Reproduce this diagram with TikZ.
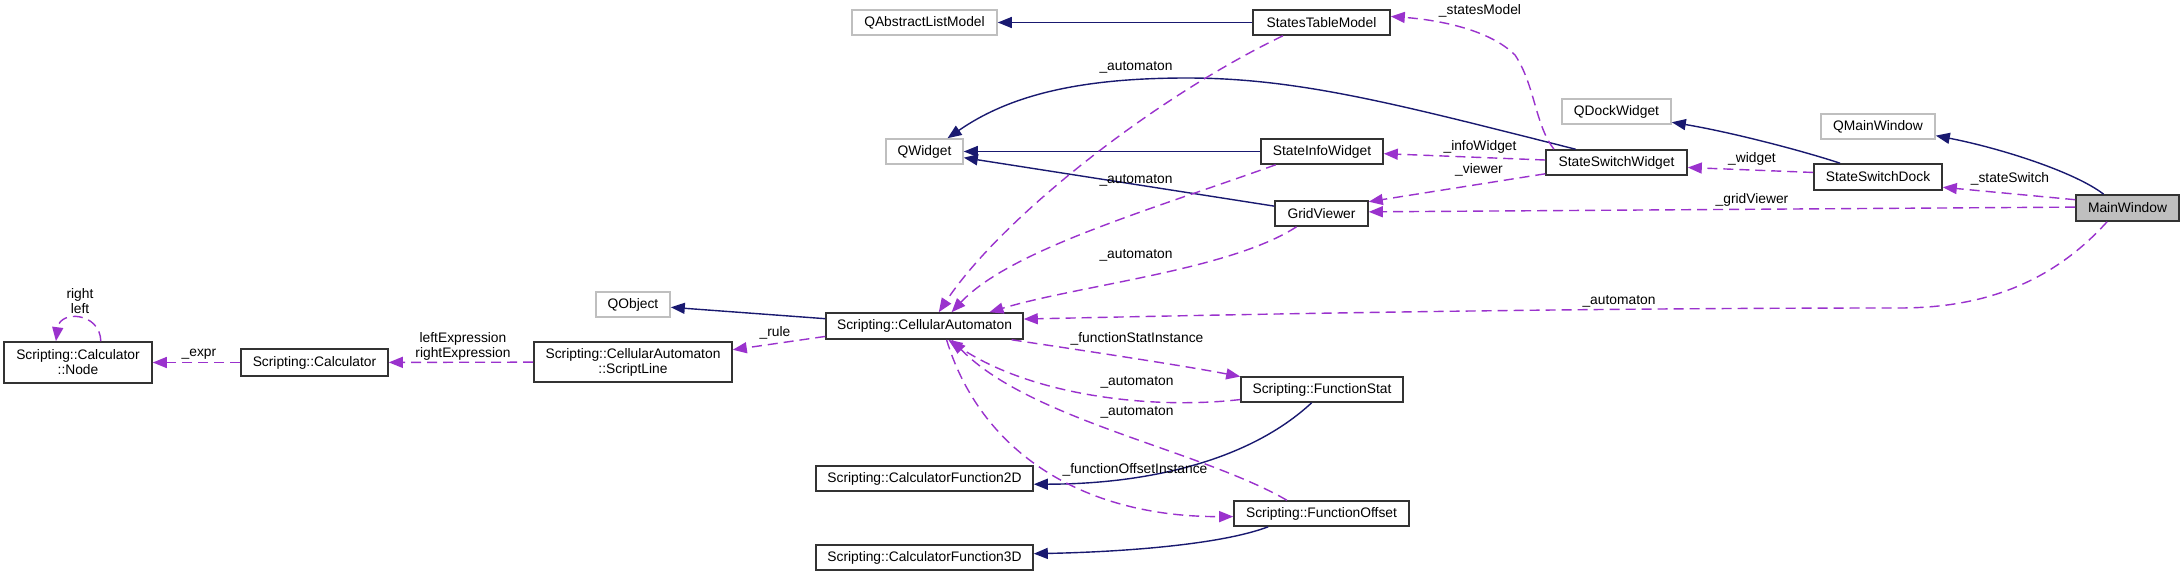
\documentclass[tikz,border=0pt]{standalone}
\usepackage{fontspec}
\setmainfont{Liberation Sans}
\usetikzlibrary{arrows.meta}
\definecolor{navy}{HTML}{191970}
\definecolor{orchid}{HTML}{9A32CD}
\definecolor{greybox}{HTML}{BFBFBF}

\begin{document}
\begin{tikzpicture}[
			x=1pt,y=-1pt,
			cls/.style={draw=black!80,line width=1.6pt,fill=white,inner sep=2pt,minimum height=25pt,align=center,font=\fontsize{13.8}{15}\selectfont},
			ext/.style={cls,draw=greybox},
			dbl/.style={cls,minimum height=41pt},
			inh/.style={-{Triangle[length=14pt,width=11pt]},line width=1.4pt,navy},
			usa/.style={-{Triangle[length=14pt,width=11pt]},line width=1.4pt,orchid,dash pattern=on 10pt off 6pt},
			lbl/.style={inner sep=0pt,align=center,font=\fontsize{13.8}{15}\selectfont}
			]
			\useasboundingbox (0,0) rectangle (2184,576);
			\fill[white] (0,0) rectangle (2184,576);
			\node[ext,minimum width=145pt] (qalm) at (924.5,22.5) {QAbstractListModel};
			\node[cls,minimum width=137pt] (stm) at (1321.5,22.5) {StatesTableModel};
			\node[ext,minimum width=77pt] (qw) at (924.5,151.5) {QWidget};
			\node[cls,minimum width=122pt] (siw) at (1322,151.5) {StateInfoWidget};
			\node[cls,minimum width=93pt] (gv) at (1321.5,213.5) {GridViewer};
			\node[ext,minimum width=109pt] (qdw) at (1616.5,111.5) {QDockWidget};
			\node[cls,minimum width=141pt] (ssw) at (1616.5,162.5) {StateSwitchWidget};
			\node[ext,minimum width=114pt] (qmw) at (1878,126.5) {QMainWindow};
			\node[cls,minimum width=128pt,minimum height=26pt] (ssd) at (1878,177) {StateSwitchDock};
			\node[cls,fill=greybox,minimum width=103pt,minimum height=26pt] (mw) at (2127.5,208) {MainWindow};
			\node[ext,minimum width=74pt] (qo) at (633,304.5) {QObject};
			\node[cls,minimum width=197pt,minimum height=26pt] (ca) at (924.5,326) {Scripting::CellularAutomaton};
			\node[dbl,minimum width=148pt] (cnode) at (78,362.5) {Scripting::Calculator\\::Node};
			\node[cls,minimum width=147pt,minimum height=27pt] (calc) at (314.5,362.5) {Scripting::Calculator};
			\node[dbl,minimum width=198pt,minimum height=40pt] (sline) at (633,362) {Scripting::CellularAutomaton\\::ScriptLine};
			\node[cls,minimum width=162pt] (fstat) at (1322,389.5) {Scripting::FunctionStat};
			\node[cls,minimum width=217pt] (cf2) at (924.5,478.5) {Scripting::CalculatorFunction2D};
			\node[cls,minimum width=175pt] (foff) at (1321.5,513.5) {Scripting::FunctionOffset};
			\node[cls,minimum width=217pt] (cf3) at (924.5,557.5) {Scripting::CalculatorFunction3D};
			\draw[inh] (stm) -- (qalm);
			\draw[inh] (ssw.162) .. controls (1400,105) and (1300,78) .. (1187,78) .. controls (1080,78) and (1010,95) .. (qw.30);
			\draw[inh] (siw) -- (qw);
			\draw[inh] (gv) -- (qw);
			\draw[inh] (ssd.160) .. controls (1800,150) and (1730,132) .. (qdw.-11);
			\draw[inh] (mw.150) .. controls (2075,172) and (2000,148) .. (qmw.-9);
			\draw[inh] (ca) -- (qo);
			\draw[inh] (fstat.232) .. controls (1250,460) and (1150,484) .. (cf2.-3);
			\draw[inh] (foff.194) .. controls (1220,545) and (1120,552) .. (cf3.2);
			\draw[usa] (ssw.168) .. controls (1535,125) and (1535,85) .. (1515,55) .. controls (1490,30) and (1440,20) .. (stm.5);
			\draw[usa] (stm.199) .. controls (1150,100) and (1000,220) .. (ca.44);
			\draw[usa] (siw.196) .. controls (1150,210) and (1010,250) .. (ca.27);
			\draw[usa] (gv.208) .. controls (1230,270) and (1080,285) .. (ca.12);
			\draw[usa] (mw.214) .. controls (2050,285) and (1980,308) .. (1899,308) .. controls (1600,308) and (1300,313) .. (ca.4);
			\draw[usa] (mw.179) -- (gv.2);
			\draw[usa] (mw.171) -- (ssd.-9);
			\draw[usa] (ssd.176) -- (ssw.-4);
			\draw[usa] (ssw.178) -- (siw.-2);
			\draw[usa] (ssw.189) -- (gv.14);
			\draw[usa] (ca.186) -- (sline.7);
			\draw[usa] (sline) -- (calc);
			\draw[usa] (calc) -- (cnode);
			\draw[usa] (cnode.43) .. controls (100,312) and (60,310) .. (cnode.136);
			\draw[usa] (ca.-9) .. controls (1080,350) and (1180,365) .. (fstat.171);
			\draw[usa] (fstat.187) .. controls (1150,410) and (1030,395) .. (ca.-30);
			\draw[usa] (foff.159) .. controls (1200,450) and (1030,420) .. (ca.-27);
			\draw[usa] (ca.-32) .. controls (980,450) and (1080,517) .. (foff.182);
			\node[lbl] (lrl) at (80,301) {right\\left};
			\node[lbl] (lexpr) at (199,354) {\_expr};
			\node[lbl] (lexp) at (463,346) {leftExpression\\rightExpression};
			\node[lbl] (lrule) at (775,333) {\_rule};
			\node[lbl] (la1) at (1136,67) {\_automaton};
			\node[lbl] (la2) at (1136,180) {\_automaton};
			\node[lbl] (la3) at (1136,255) {\_automaton};
			\node[lbl] (la4) at (1619,301) {\_automaton};
			\node[lbl] (lsm) at (1480,11) {\_statesModel};
			\node[lbl] (liw) at (1480,147) {\_infoWidget};
			\node[lbl] (lvw) at (1479,170) {\_viewer};
			\node[lbl] (lwg) at (1752,159) {\_widget};
			\node[lbl] (lgv) at (1752,200) {\_gridViewer};
			\node[lbl] (lss) at (2010,179) {\_stateSwitch};
			\node[lbl] (lfsi) at (1137,339) {\_functionStatInstance};
			\node[lbl] (la5) at (1137,382) {\_automaton};
			\node[lbl] (la6) at (1137,412) {\_automaton};
			\node[lbl] (lfoi) at (1135,470) {\_functionOffsetInstance};
		\end{tikzpicture}
\end{document}
